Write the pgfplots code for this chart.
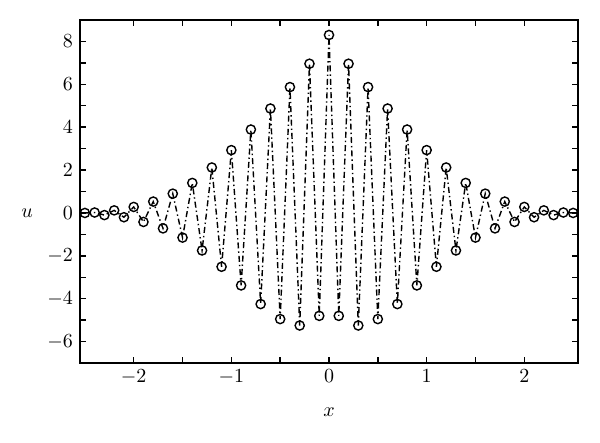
\documentclass[border=0pt]{standalone}
\usepackage{pgfplots}
\pgfplotsset{compat=1.18}
\usetikzlibrary{calc}
\begin{document}
\begin{tikzpicture}
\begin{axis}[
  scale only axis,
  width=249pt, height=171.5pt,
  xmin=-2.55, xmax=2.55,
  ymin=-7, ymax=9,
  xtick={-2,-1,0,1,2},
  minor x tick num=1,
  ytick={-6,-4,-2,0,2,4,6,8},
  minor y tick num=1,
  tick align=inside,
  major tick length=3pt,
  minor tick length=3pt,
  axis line style={line width=1pt},
  tick style={line width=0.7pt,black},
  xlabel={$x$},
  ylabel={$u$},
  xlabel style={at={(axis description cs:0.5,-0.143)},anchor=center},
  ylabel style={at={(axis description cs:-0.106,0.437)},anchor=center,rotate=-90},
  tick label style={font=\normalsize},
]
\addplot[black, line width=0.7pt, dash pattern=on 3pt off 1.5pt on 0.7pt off 1.5pt,
  mark=o, mark size=2.3pt, mark options={solid, line width=0.7pt}]
coordinates {
(-2.5,0.0) (-2.4,0.02) (-2.3,-0.1) (-2.2,0.12) (-2.1,-0.2) (-2.0,0.28)
(-1.9,-0.42) (-1.8,0.53) (-1.7,-0.72) (-1.6,0.90) (-1.5,-1.15) (-1.4,1.40)
(-1.3,-1.75) (-1.2,2.12) (-1.1,-2.51) (-1.0,2.93) (-0.9,-3.38) (-0.8,3.89)
(-0.7,-4.25) (-0.6,4.87) (-0.5,-4.95) (-0.4,5.87) (-0.3,-5.25) (-0.2,6.96)
(-0.1,-4.80) (0.0,8.30) (0.1,-4.80) (0.2,6.96) (0.3,-5.25) (0.4,5.87)
(0.5,-4.95) (0.6,4.87) (0.7,-4.25) (0.8,3.89) (0.9,-3.38) (1.0,2.93)
(1.1,-2.51) (1.2,2.12) (1.3,-1.75) (1.4,1.40) (1.5,-1.15) (1.6,0.90)
(1.7,-0.72) (1.8,0.53) (1.9,-0.42) (2.0,0.28) (2.1,-0.2) (2.2,0.12)
(2.3,-0.1) (2.4,0.02) (2.5,0.0)
};
\end{axis}
\pgfresetboundingbox
\path ($(current axis.south west)+(-40pt,-39.5pt)$) rectangle ($(current axis.north east)+(11pt,10pt)$);
\end{tikzpicture}
\end{document}
